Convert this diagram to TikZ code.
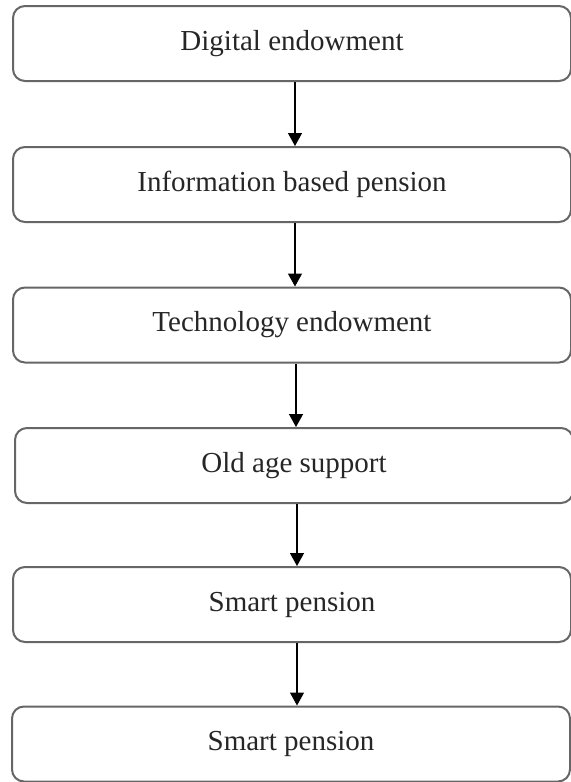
\documentclass[tikz,border=0pt]{standalone}
\usepackage{fontspec}
\setmainfont{Liberation Serif}
\usetikzlibrary{arrows.meta}
\tikzset{
  stagebox/.style={draw=black!60, line width=1pt, rounded corners=6pt,
    minimum width=279pt, minimum height=37.5pt, inner sep=0pt,
    text=black!85, font=\fontsize{14.5pt}{17pt}\selectfont},
  flowarrow/.style={-{Triangle[length=6.5pt,width=7pt]}, line width=0.7pt}
}
\begin{document}
\begin{tikzpicture}[x=0.5pt,y=-0.5pt]
\useasboundingbox (0,0) rectangle (571,782);
\node[stagebox] (digital) at (292,43.5) {Digital endowment};
\node[stagebox] (info) at (292,184.5) {Information based pension};
\node[stagebox] (tech) at (292,325) {Technology endowment};
\node[stagebox] (oldage) at (294,465.5) {Old age support};
\node[stagebox] (smartA) at (292,604.5) {Smart pension};
\node[stagebox] (smartB) at (291,744) {Smart pension};
\draw[flowarrow] (digital.south -| 295,0) -- (info.north -| 295,0);
\draw[flowarrow] (info.south -| 295,0) -- (tech.north -| 295,0);
\draw[flowarrow] (tech.south -| 296,0) -- (oldage.north -| 296,0);
\draw[flowarrow] (oldage.south -| 297,0) -- (smartA.north -| 297,0);
\draw[flowarrow] (smartA.south -| 297,0) -- (smartB.north -| 297,0);
\end{tikzpicture}
\end{document}
